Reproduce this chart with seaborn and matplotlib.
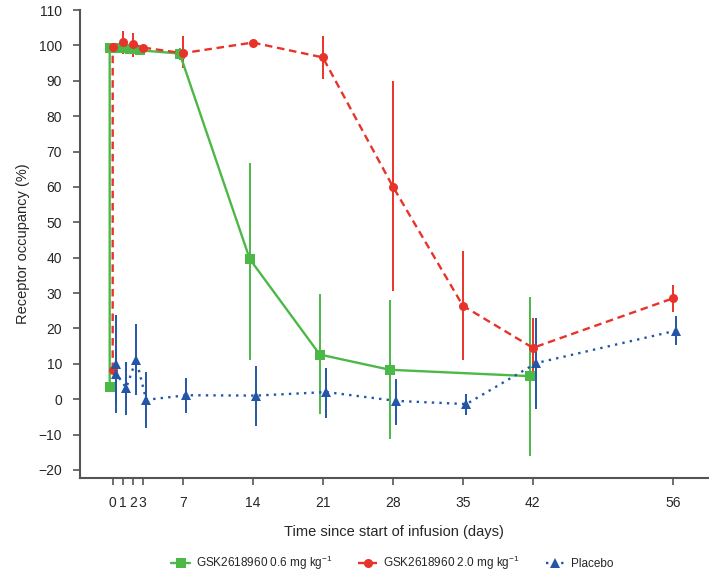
import matplotlib

matplotlib.use("Agg")

import matplotlib.pyplot as plt
import seaborn as sns
import pandas as pd

# -----------------------------
# Data
# -----------------------------
LOW = "GSK2618960 0.6 mg kg$^{-1}$"
HIGH = "GSK2618960 2.0 mg kg$^{-1}$"
PBO = "Placebo"

# first two entries of each series: pre-dose and end of infusion (both day 0)
days_low = [0, 0, 1, 2, 3, 7, 14, 21, 28, 42]
ro_low = [3.5, 99.3, 99.2, 99.0, 98.6, 97.7, 39.6, 12.6, 8.3, 6.5]
lo_low = [3.0, 98.6, 98.6, 98.3, 97.9, 96.0, 11.2, -4.3, -11.4, -16.2]
hi_low = [4.0, 100.0, 99.8, 99.7, 99.3, 99.3, 66.7, 29.6, 27.9, 29.0]

days_high = [0, 0, 1, 2, 3, 7, 14, 21, 28, 35, 42, 56]
ro_high = [8.2, 99.6, 100.9, 100.4, 99.4, 97.8, 100.8, 96.6, 60.1, 26.4, 14.5, 28.5]
lo_high = [7.5, 99.0, 97.5, 96.8, 98.8, 93.6, 100.0, 90.6, 30.6, 11.0, 6.0, 24.6]
hi_high = [9.0, 100.2, 104.0, 103.6, 100.0, 102.6, 101.6, 102.6, 89.8, 41.9, 23.0, 32.4]

days_pbo = [0, 0, 1, 2, 3, 7, 14, 21, 28, 35, 42, 56]
ro_pbo = [10.0, 7.2, 3.2, 11.2, -0.2, 1.1, 1.0, 2.0, -0.5, -1.4, 10.2, 19.4]
lo_pbo = [-4.0, -1.0, -4.5, 1.1, -8.3, -3.8, -7.5, -5.2, -7.3, -4.5, -2.9, 15.2]
hi_pbo = [23.7, 15.0, 10.5, 21.1, 7.7, 6.0, 9.5, 8.8, 5.8, 1.4, 23.0, 23.5]

x_ticks = [0, 1, 2, 3, 7, 14, 21, 28, 35, 42, 56]
y_ticks = list(range(-20, 111, 10))

# -----------------------------
# Style
# -----------------------------
sns.set_theme(style="ticks")
plt.rcParams["font.family"] = ["Liberation Sans", "DejaVu Sans"]
plt.rcParams["mathtext.fontset"] = "custom"
plt.rcParams["mathtext.rm"] = "Liberation Sans"
plt.rcParams["mathtext.it"] = "Liberation Sans"

colors = {LOW: "#4cb847", HIGH: "#e8332b", PBO: "#2356a6"}
markers = {LOW: "s", HIGH: "o", PBO: "^"}
dashes = {LOW: "", HIGH: (3.2, 2.0), PBO: (1, 2.2)}
shift = {LOW: -0.3, HIGH: 0.0, PBO: 0.35}

series = [
    (LOW, days_low, ro_low, lo_low, hi_low),
    (HIGH, days_high, ro_high, lo_high, hi_high),
    (PBO, days_pbo, ro_pbo, lo_pbo, hi_pbo),
]

frames = []
for name, d, ro, lo, hi in series:
    frames.append(
        pd.DataFrame(
            {
                "group": name,
                "day": [v + shift[name] for v in d],
                "ro": ro,
                "lo": lo,
                "hi": hi,
            }
        )
    )
df = pd.concat(frames, ignore_index=True)

# -----------------------------
# Plot
# -----------------------------
fig = plt.figure(figsize=(7.09, 5.72), dpi=100)
ax = fig.add_axes([0.1128, 0.1643, 0.8858, 0.8182])

for name, _, _, _, _ in series:
    sub = df[df["group"] == name]
    ax.errorbar(
        sub["day"],
        sub["ro"],
        yerr=[sub["ro"] - sub["lo"], sub["hi"] - sub["ro"]],
        fmt="none",
        ecolor=colors[name],
        elinewidth=1.4,
        capsize=0,
        zorder=2,
    )

sns.lineplot(
    data=df,
    x="day",
    y="ro",
    hue="group",
    style="group",
    palette=colors,
    markers=markers,
    dashes=dashes,
    estimator=None,
    sort=False,
    linewidth=1.7,
    markersize=6.5,
    markeredgewidth=0,
    ax=ax,
    zorder=3,
)

ax.set_xlim(-3.27, 59.5)
ax.set_ylim(-22.3, 110)
ax.set_xticks(x_ticks)
ax.set_yticks(y_ticks)
ax.set_xlabel("Time since start of infusion (days)", fontsize=10.5, labelpad=11)
ax.set_ylabel("Receptor occupancy (%)", fontsize=10.5, labelpad=6)
ax.tick_params(axis="both", labelsize=10, length=5, width=1.2, color="#555555", pad=8)

sns.despine(ax=ax)
for side in ["left", "bottom"]:
    ax.spines[side].set_color("#555555")
    ax.spines[side].set_linewidth(1.5)

sns.move_legend(
    ax,
    "center",
    bbox_to_anchor=(0.497, -0.182),
    ncol=3,
    title=None,
    frameon=False,
    fontsize=8.5,
    handlelength=1.6,
    columnspacing=2.2,
    handletextpad=0.5,
)

fig.savefig("out.png", dpi=100)
plt.close(fig)
